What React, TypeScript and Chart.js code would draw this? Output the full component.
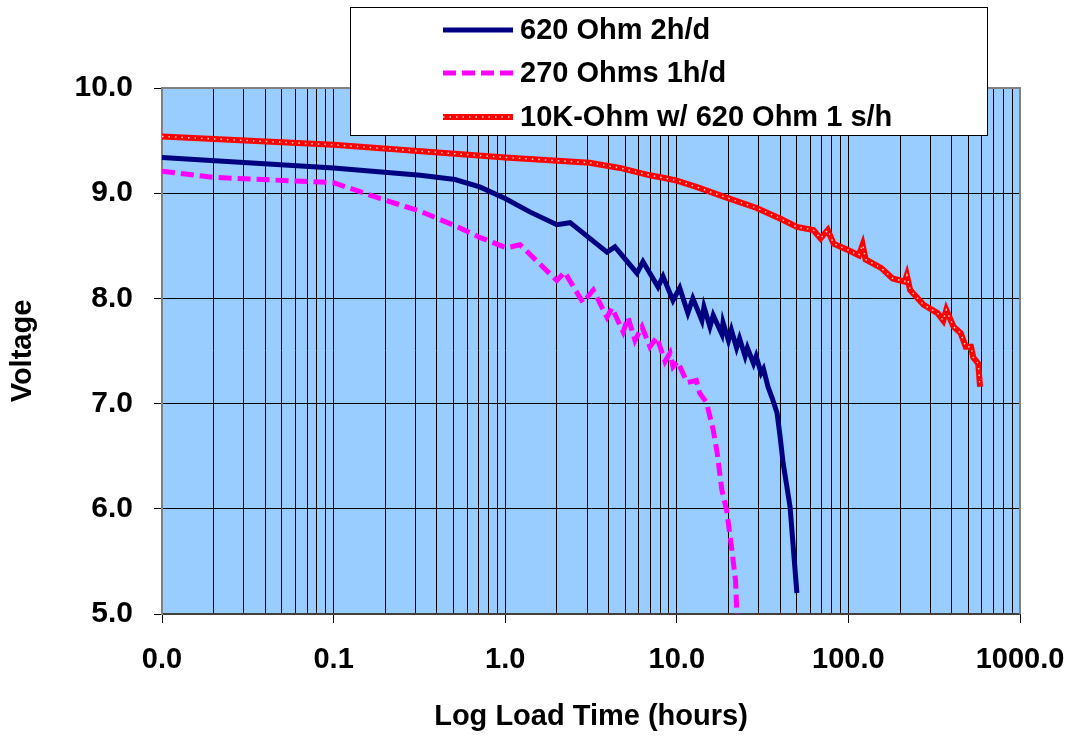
import React, { useEffect, useRef } from 'react';
import { Chart, registerables } from 'chart.js';

Chart.register(...registerables);

const seriesLabels = ['620 Ohm 2h/d', '270 Ohms 1h/d', '10K-Ohm w/ 620 Ohm 1 s/h'];

const blueHours = [0.01, 0.1, 0.32, 0.51, 0.71, 1.0, 1.4, 2.0, 2.39, 3.92, 4.36, 5.86, 6.35, 7.77, 8.31, 9.5, 10.4, 11.6, 12.4, 14.0, 14.4, 15.6, 16.3, 18.3, 18.6, 20.0, 20.8, 22.3, 23.2, 25.0, 25.8, 28.0, 29.0, 31.0, 32.0, 34.0, 36.0, 38.4, 39.9, 41.6, 45.7, 50.1];
const blueVolts = [9.34, 9.24, 9.17, 9.13, 9.06, 8.95, 8.82, 8.70, 8.72, 8.44, 8.49, 8.24, 8.35, 8.11, 8.21, 7.98, 8.10, 7.86, 8.0, 7.79, 7.92, 7.73, 7.84, 7.66, 7.77, 7.60, 7.70, 7.53, 7.62, 7.45, 7.53, 7.38, 7.45, 7.29, 7.33, 7.16, 7.05, 6.91, 6.70, 6.44, 6.02, 5.20];

const magentaHours = [0.01, 0.0201, 0.1, 0.186, 0.318, 0.545, 0.71, 1.02, 1.22, 2.0, 2.22, 2.84, 3.26, 3.92, 4.19, 4.87, 5.2, 5.71, 6.27, 6.97, 7.65, 8.54, 9.13, 9.5, 10.1, 11.5, 13.0, 13.6, 14.9, 16.3, 17.2, 18.3, 19.5, 20.6, 22.0, 22.4];
const magentaVolts = [9.21, 9.15, 9.10, 8.95, 8.83, 8.67, 8.58, 8.48, 8.51, 8.17, 8.25, 7.96, 8.08, 7.82, 7.91, 7.68, 7.82, 7.60, 7.73, 7.54, 7.63, 7.40, 7.48, 7.35, 7.40, 7.20, 7.22, 7.10, 7.01, 6.75, 6.53, 6.18, 5.99, 5.70, 5.32, 4.99];

const redHours = [0.01, 0.1, 1.0, 3.1, 4.66, 6.97, 8.77, 10.0, 13.0, 19.3, 29.2, 39.9, 50.1, 62.5, 68.8, 75.8, 82.0, 99.3, 115, 121, 126, 155, 181, 213, 219, 229, 274, 331, 357, 372, 410, 451, 483, 518, 534, 571, 585];
const redVolts = [9.54, 9.46, 9.34, 9.29, 9.24, 9.17, 9.14, 9.12, 9.06, 8.96, 8.86, 8.76, 8.68, 8.65, 8.57, 8.65, 8.52, 8.46, 8.41, 8.51, 8.37, 8.29, 8.19, 8.16, 8.22, 8.08, 7.94, 7.86, 7.79, 7.89, 7.73, 7.67, 7.54, 7.54, 7.44, 7.38, 7.16];

const decadeValues = [0.01, 0.1, 1, 10, 100, 1000];
const xTickLabels = ['0.0', '0.1', '1.0', '10.0', '100.0', '1000.0'];
const minorMultipliers = [2, 3, 4, 5, 6, 7, 8, 9];

const FONT = '"Liberation Sans", Arial, Helvetica, sans-serif';

const pts = (xs: number[], ys: number[]) => xs.map((x, i) => ({ x, y: ys[i] }));
const isDecade = (v: number) => decadeValues.some((d) => Math.abs(d - v) / d < 1e-6);

const allXTicks: number[] = [];
decadeValues.forEach((d, i) => {
  allXTicks.push(d);
  if (i < decadeValues.length - 1) minorMultipliers.forEach((m) => allXTicks.push(m * d));
});

const bgPlugin = {
  id: 'plotBg',
  beforeDraw(chart: any) {
    const { ctx, chartArea: a } = chart;
    ctx.save();
    ctx.fillStyle = '#99CCFF';
    ctx.fillRect(a.left, a.top, a.right - a.left, a.bottom - a.top);
    ctx.restore();
  },
  beforeDatasetsDraw(chart: any) {
    const { ctx, chartArea: a } = chart;
    ctx.save();
    ctx.strokeStyle = '#808080';
    ctx.lineWidth = 2;
    ctx.beginPath();
    ctx.moveTo(a.left, a.top);
    ctx.lineTo(a.right, a.top);
    ctx.lineTo(a.right, a.bottom);
    ctx.stroke();
    ctx.restore();
  },
};

const legendPlugin = {
  id: 'boxLegend',
  afterDraw(chart: any) {
    const { ctx } = chart;
    const ds = chart.data.datasets;
    ctx.save();
    ctx.fillStyle = '#FFFFFF';
    ctx.fillRect(350, 7, 638, 129);
    ctx.strokeStyle = '#000000';
    ctx.lineWidth = 1;
    ctx.strokeRect(350.5, 7.5, 637, 128);
    const rows = [30, 73, 117];
    for (let i = 0; i < 3; i++) {
      const d = ds[i];
      const y = rows[i];
      ctx.beginPath();
      ctx.strokeStyle = d.borderColor;
      ctx.lineWidth = d.borderWidth;
      ctx.setLineDash(d.borderDash || []);
      ctx.moveTo(443, y);
      ctx.lineTo(513, y);
      ctx.stroke();
      if (i === 2) {
        const o = ds[3];
        ctx.beginPath();
        ctx.strokeStyle = o.borderColor;
        ctx.lineWidth = o.borderWidth;
        ctx.setLineDash(o.borderDash);
        ctx.moveTo(443, y);
        ctx.lineTo(513, y);
        ctx.stroke();
      }
      ctx.setLineDash([]);
      ctx.fillStyle = '#000000';
      ctx.font = `bold 29px ${FONT}`;
      ctx.textBaseline = 'middle';
      ctx.textAlign = 'left';
      ctx.fillText(d.label, 520, y + 1);
    }
    ctx.restore();
  },
};

export default function App() {
  const ref = useRef<HTMLCanvasElement | null>(null);

  useEffect(() => {
    document.body.style.margin = '0';
    if (!ref.current) return;
    const chart = new Chart(ref.current, {
      type: 'line',
      data: {
        datasets: [
          {
            label: seriesLabels[0],
            data: pts(blueHours, blueVolts),
            borderColor: '#000080',
            borderWidth: 5,
            pointRadius: 0,
            tension: 0,
            order: 1,
          },
          {
            label: seriesLabels[1],
            data: pts(magentaHours, magentaVolts),
            borderColor: '#FF00FF',
            borderWidth: 5,
            borderDash: [13, 6],
            pointRadius: 0,
            tension: 0,
            order: 1,
          },
          {
            label: seriesLabels[2],
            data: pts(redHours, redVolts),
            borderColor: '#FF0000',
            borderWidth: 6,
            pointRadius: 0,
            tension: 0,
            order: 1,
          },
          {
            label: seriesLabels[2] + ' (dots)',
            data: pts(redHours, redVolts),
            borderColor: '#FFD0D0',
            borderWidth: 1.5,
            borderDash: [1.5, 5],
            pointRadius: 0,
            tension: 0,
            order: 0,
          },
        ],
      },
      options: {
        animation: false,
        responsive: true,
        maintainAspectRatio: false,
        layout: { padding: { left: 0, top: 88, right: 53, bottom: 0 } },
        plugins: { legend: { display: false }, tooltip: { enabled: false } },
        scales: {
          x: {
            type: 'logarithmic',
            min: 0.01,
            max: 1000,
            afterBuildTicks: (scale: any) => {
              scale.ticks = allXTicks.map((v) => ({ value: v, major: isDecade(v) }));
            },
            afterFit: (scale: any) => {
              scale.height = 122;
              scale.paddingLeft = 0;
              scale.paddingRight = 0;
            },
            ticks: {
              autoSkip: false,
              maxRotation: 0,
              minRotation: 0,
              padding: 20,
              color: '#000',
              font: { family: FONT, size: 29, weight: 'bold' },
              callback: (value: any) => {
                const i = decadeValues.findIndex((d) => Math.abs(d - value) / d < 1e-6);
                return i >= 0 ? xTickLabels[i] : '';
              },
            },
            grid: {
              color: '#000000',
              lineWidth: 1,
              tickLength: 9,
              tickColor: (ctx: any) => (ctx.tick && isDecade(ctx.tick.value) ? '#000000' : 'rgba(0,0,0,0)'),
            },
            border: { color: '#404040', width: 2 },
            title: {
              display: true,
              text: 'Log Load Time (hours)',
              color: '#000',
              font: { family: FONT, size: 29, weight: 'bold' },
              padding: { top: 0, bottom: 2 },
            },
          },
          y: {
            type: 'linear',
            min: 5,
            max: 10,
            afterFit: (scale: any) => {
              scale.width = 162;
              scale.paddingTop = 0;
              scale.paddingBottom = 0;
            },
            ticks: {
              stepSize: 1,
              padding: 21,
              color: '#000',
              font: { family: FONT, size: 30, weight: 'bold' },
              callback: (value: any) => Number(value).toFixed(1),
            },
            grid: { color: '#000000', lineWidth: 1, tickLength: 8, tickColor: '#000000' },
            border: { color: '#808080', width: 2 },
            title: {
              display: true,
              text: 'Voltage',
              color: '#000',
              font: { family: FONT, size: 29, weight: 'bold' },
              padding: { top: 6, bottom: 0 },
            },
          },
        },
      },
      plugins: [bgPlugin, legendPlugin],
    } as any);
    return () => chart.destroy();
  }, []);

  return (
    <div style={{ position: 'fixed', left: 0, top: 0, width: 1073, height: 736, background: '#fff' }}>
      <canvas ref={ref} />
    </div>
  );
}
